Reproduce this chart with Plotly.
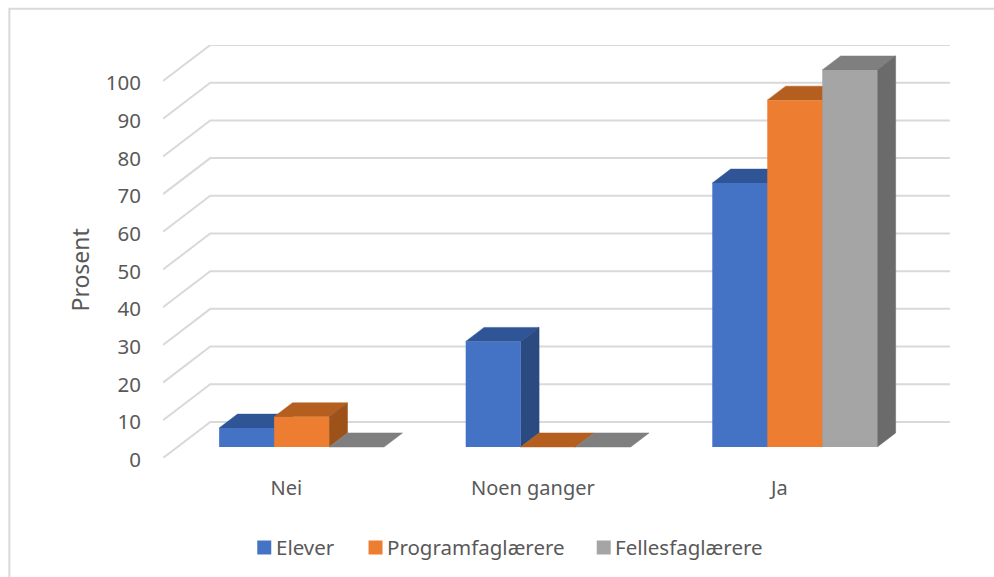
import plotly.graph_objects as go

categories = ["Nei", "Noen ganger", "Ja"]
elever = [5, 28, 70]
programfag = [8, 0, 92]
fellesfag = [0, 0, 100]
y_ticks = [0, 10, 20, 30, 40, 50, 60, 70, 80, 90, 100]

series = [
    ("Elever", elever, "#4472c4", "#2f5597", "#2a4a80"),
    ("Programfaglærere", programfag, "#ed7d31", "#b45f1f", "#9c5219"),
    ("Fellesfaglærere", fellesfag, "#a5a5a5", "#7f7f7f", "#6b6b6b"),
]

# fake 3d: how far a point at full floor depth moves, in axis units
DEPTH_X = 0.1917
DEPTH_Y = 9.56
BAR_W = 0.223
BAR_FRONT = 0.306
BAR_BACK = 0.695
GROUP_LEFT = -0.331

TEXT = "#595959"
FONT = "Noto Sans"
SIZE = 20.5
W, H = 994, 577
PLOT_L, PLOT_R, PLOT_T, PLOT_B = 162.7, 950, 45.3, 458.3


def px_x(x):
    return (x - PLOT_L) / (PLOT_R - PLOT_L)


def px_y(y):
    return (PLOT_B - y) / (PLOT_B - PLOT_T)


def proj(x, y, depth):
    return x + depth * DEPTH_X, y + depth * DEPTH_Y


def face(p1, p2, p3, p4, color, zorder):
    xs = [p[0] for p in (p1, p2, p3, p4, p1)]
    ys = [p[1] for p in (p1, p2, p3, p4, p1)]
    return go.Scatter(x=xs, y=ys, mode="lines", fill="toself", fillcolor=color,
                      line=dict(color=color, width=0.5), hoverinfo="skip",
                      showlegend=False, zorder=zorder, cliponaxis=False)


fig = go.Figure()

# walls: gridlines run from the front edge back and then along the back wall
for t in y_ticks:
    x0, y0 = proj(-0.5, t, 0)
    x1, y1 = proj(-0.5, t, 1)
    x2, y2 = proj(2.5, t, 1)
    fig.add_trace(go.Scatter(x=[x0, x1, x2], y=[y0, y1, y2], mode="lines",
                             line=dict(color="#d9d9d9", width=2), cliponaxis=False,
                             hoverinfo="skip", showlegend=False, zorder=0))

z = 1
floor = BAR_FRONT * DEPTH_Y
for s, (name, vals, front, top, side) in enumerate(series):
    xs = []
    for c, v in enumerate(vals):
        left = c + GROUP_LEFT + s * BAR_W
        right = left + BAR_W
        xs.append(left + BAR_W / 2 + BAR_FRONT * DEPTH_X)
        # top face
        fig.add_trace(face(proj(left, v, BAR_FRONT), proj(right, v, BAR_FRONT),
                           proj(right, v, BAR_BACK), proj(left, v, BAR_BACK), top, z))
        # right side face
        if v > 0:
            fig.add_trace(face(proj(right, 0, BAR_FRONT), proj(right, 0, BAR_BACK),
                               proj(right, v, BAR_BACK), proj(right, v, BAR_FRONT), side, z))
    # front faces
    fig.add_trace(go.Bar(x=xs, y=vals, base=[floor] * len(vals), width=BAR_W, name=name,
                         marker=dict(color=front, line=dict(width=0)), showlegend=False,
                         zorder=z + 1))
    z += 2

# legend, plotly's own leaves too wide a gap after the swatch
legend_x = [257, 368.3, 596.6]
for item, lx in zip(series, legend_x):
    fig.add_shape(type="rect", xref="paper", yref="paper", x0=px_x(lx), x1=px_x(lx + 14),
                  y0=px_y(554.8), y1=px_y(540.8), fillcolor=item[2], line_width=0)
    fig.add_annotation(xref="paper", yref="paper", x=px_x(lx + 16.5), y=px_y(547), text=item[0],
                       showarrow=False, xanchor="left", yanchor="middle",
                       font=dict(family=FONT, size=SIZE, color=TEXT))

fig.add_annotation(xref="paper", yref="paper", x=px_x(79.5), y=px_y(270), text="Prosent",
                   textangle=-90, showarrow=False, xanchor="center", yanchor="middle",
                   font=dict(family=FONT, size=23, color=TEXT))

# outer frame of the chart
fig.add_shape(type="rect", xref="paper", yref="paper", x0=px_x(9), x1=px_x(W + 20),
              y0=px_y(H + 20), y1=px_y(9), line=dict(color="#d9d9d9", width=2),
              fillcolor="rgba(0,0,0,0)")

fig.update_layout(
    width=W, height=H,
    margin=dict(l=PLOT_L, r=W - PLOT_R, t=PLOT_T, b=H - PLOT_B, pad=0, autoexpand=False),
    paper_bgcolor="white",
    plot_bgcolor="white",
    barmode="overlay",
    showlegend=False,
    font=dict(family=FONT, size=SIZE, color=TEXT),
    xaxis=dict(range=[-0.5, 2.5 + DEPTH_X], tickvals=[0, 1, 2], ticktext=categories,
               showgrid=False, zeroline=False, showline=False, ticks="",
               ticklabelstandoff=16, tickfont=dict(size=20)),
    yaxis=dict(range=[0, 100 + DEPTH_Y], tickvals=y_ticks, showgrid=False, zeroline=False,
               showline=False, ticks="", ticklabelstandoff=21, ticklabelshift=2),
)
# the page's default body margin would push everything 8px off
fig.write_html("out.html", config=dict(displayModeBar=False),
               post_script="document.body.style.margin='0';")
